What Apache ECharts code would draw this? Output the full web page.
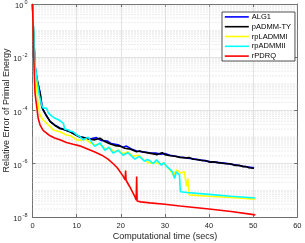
<!DOCTYPE html>
<html><head><meta charset="utf-8">
<script src="https://cdn.jsdelivr.net/npm/echarts@6/dist/echarts.min.js"></script>
<style>html,body{margin:0;padding:0;background:#fff}#c{width:305px;height:243px}</style>
</head><body><div id="c"></div>
<script>
var seriesNames = ['ALG1', 'pADMM-TY', 'rpLADMMI', 'rpADMMII', 'rPDRQ'];
var xTicks = [0, 10, 20, 30, 40, 50, 60];
var yTickExponents = [0, -2, -4, -6, -8];

var alg1 = [[0,1],[0.2,1.2e-1],[0.6,4e-3],[1.0,1.5e-3],[1.4,8e-4],[1.8,4e-4],[2.2,1.3e-4],[2.5,1.0e-4],[3.0,7e-5],[4.0,3.9e-5],[5.0,2.9e-5],[6.2,2.2e-5],[7.3,1.9e-5],[8.5,1.6e-5],[9.6,1.3e-5],[10.7,1.05e-5],[11.9,9.3e-6],[13.0,8.5e-6],[14.5,9.6e-6],[15.5,7.5e-6],[16.9,7.2e-6],[17.8,5.8e-6],[19.6,5.0e-6],[20.5,4.2e-6],[21.3,4.6e-6],[22.4,3.6e-6],[23.6,3.0e-6],[25.0,2.8e-6],[26.5,2.6e-6],[27.9,2.5e-6],[29.0,2.3e-6],[30.0,2.4e-6],[31.2,2.1e-6],[33.4,1.8e-6],[36.4,1.52e-6],[40.2,1.2e-6],[43.9,1.03e-6],[47.7,8.1e-7],[50.2,7.0e-7]];

var padmmTY = [[0,1],[0.2,1e-1],[0.57,4.5e-3],[1.0,1.6e-3],[1.3,9.1e-4],[1.7,4.5e-4],[2.1,1.4e-4],[2.4,1.05e-4],[3.0,7.1e-5],[4.0,3.8e-5],[5.0,2.8e-5],[6.2,2.1e-5],[7.3,1.9e-5],[8.5,1.6e-5],[9.6,1.26e-5],[10.7,1.0e-5],[11.9,9.5e-6],[13.0,8.3e-6],[14.1,7.9e-6],[15.3,9.1e-6],[16.4,6.8e-6],[17.5,5.6e-6],[18.7,4.8e-6],[19.8,4.6e-6],[20.9,3.8e-6],[22.2,3.5e-6],[23.6,2.8e-6],[24.3,3.0e-6],[25.0,2.75e-6],[26.5,2.5e-6],[27.7,2.3e-6],[28.2,2.2e-6],[28.8,2.4e-6],[29.4,2.6e-6],[30.0,2.2e-6],[31.2,2.0e-6],[32.3,1.9e-6],[33.4,1.74e-6],[34.9,1.66e-6],[35.6,1.7e-6],[36.4,1.48e-6],[37.3,1.45e-6],[38.3,1.32e-6],[39.2,1.33e-6],[40.2,1.15e-6],[41.1,1.18e-6],[42.0,1.1e-6],[43.9,1.0e-6],[44.8,1.0e-6],[45.8,8.7e-7],[46.8,8.8e-7],[47.7,7.8e-7],[48.4,7.8e-7],[49.0,7.1e-7],[50.2,6.8e-7]];

var rpladmmi = [[0,1],[0.3,3.2e-2],[0.6,3.2e-3],[1.0,5e-4],[1.3,1.6e-4],[1.7,6.8e-5],[2.4,4.4e-5],[3.6,2.9e-5],[4.7,1.86e-5],[6.2,1.6e-5],[7.7,1.2e-5],[8.7,1.12e-5],[10,7.9e-6],[11,7.6e-6],[12,8.3e-6],[13,6.3e-6],[14.1,5e-6],[15.3,5.6e-6],[16.5,3.5e-6],[17.5,4e-6],[18.5,2.8e-6],[19.5,3.2e-6],[20.6,2.4e-6],[21.6,2.8e-6],[22.8,1.9e-6],[24,2.1e-6],[25.2,1.4e-6],[26.6,1.05e-6],[27.6,1.12e-6],[28.8,1.0e-6],[29.8,1.05e-6],[31.1,5.9e-7],[31.9,3.8e-7],[32.7,5.9e-7],[33.5,4.5e-7],[34.4,5.0e-7],[34.9,1.4e-7],[35.2,2.8e-7],[35.5,6.8e-8],[40,6.0e-8],[45,5.4e-8],[50.5,4.7e-8]];

var rpadmmii = [[0,1],[0.3,6.3e-2],[0.6,5e-3],[1.0,1.6e-3],[1.5,4e-4],[2.0,1.8e-4],[2.3,1.26e-4],[3.2,1.2e-4],[3.6,7.9e-5],[4.3,6.3e-5],[5.1,5.1e-5],[5.9,4.5e-5],[7.0,3.3e-5],[7.3,2.0e-5],[8.0,1.9e-5],[8.6,1.66e-5],[9.2,1.58e-5],[9.9,1.26e-5],[10.7,1.05e-5],[11.5,7.9e-6],[12.6,1.0e-5],[14.1,4.5e-6],[15.3,6.0e-6],[16.4,3.2e-6],[17.3,4.2e-6],[18.3,2.5e-6],[19.4,3.2e-6],[20.5,2.1e-6],[21.6,2.6e-6],[23.2,1.5e-6],[24.2,1.9e-6],[25.4,1.26e-6],[26.0,1.45e-6],[26.6,1.3e-6],[27.3,1.0e-6],[28.1,1.4e-6],[29.2,8.9e-7],[29.8,1.1e-6],[30.4,7.9e-7],[31.1,6.3e-7],[31.7,5e-7],[32.2,2.8e-7],[32.6,5.0e-7],[33.3,3.8e-7],[33.5,8.9e-8],[35,8.3e-8],[40,7.1e-8],[45,6.0e-8],[50.5,5.2e-8]];

var rpdrq = [[0,1],[0.15,1e-1],[0.3,7.9e-3],[0.57,4.5e-4],[0.95,1.4e-4],[1.3,5e-5],[1.7,2.9e-5],[2.4,1.8e-5],[3.2,1.4e-5],[4,1.12e-5],[5,9.3e-6],[6.2,7.9e-6],[7.7,6.3e-6],[9.2,5.4e-6],[10.7,4.7e-6],[12.6,3.5e-6],[14,2.8e-6],[15.7,2.1e-6],[17.1,1.5e-6],[18.3,1.0e-6],[19.2,7.1e-7],[20.5,3.5e-7],[21.0,2.5e-7],[21.1,5.6e-7],[21.2,2.4e-7],[22.0,1.4e-7],[23.2,5.8e-8],[23.5,4.4e-8],[23.6,3.3e-7],[23.7,4.0e-8],[24.5,3.7e-8],[26.6,3.4e-8],[30,3.0e-8],[33.4,2.6e-8],[40,2.0e-8],[45,1.6e-8],[50.5,1.2e-8]];

var colors = ['#0000ff', '#000000', '#ffff00', '#00ffff', '#ff0000'];
var datasets = [alg1, padmmTY, rpladmmi, rpadmmii, rpdrq];

var font = 'Liberation Sans, Arial, sans-serif';
var axisColor = '#6e6e6e';
var labelColor = '#262626';

// minor log grid lines (dotted) drawn through the axes as flat line series
var series = [];
for (var k = -8; k < 0; k++) {
  for (var m = 1; m <= 9; m++) {
    if (m === 1 && k % 2 === 0) continue;
    var v = m * Math.pow(10, k);
    series.push({
      type: 'line', silent: true, z: 1, symbol: 'none', showSymbol: false,
      data: [[0, v], [60, v]],
      lineStyle: { color: '#cfcfcf', type: [1, 2], width: 0.8 },
      tooltip: { show: false }
    });
  }
}
for (var i = 0; i < seriesNames.length; i++) {
  series.push({
    name: seriesNames[i], type: 'line', data: datasets[i],
    showSymbol: false, symbol: 'none', z: 3 + i,
    lineStyle: { color: colors[i], width: 1.6 },
    itemStyle: { color: colors[i] }
  });
}

var chart = echarts.init(document.getElementById('c'), null, { renderer: 'canvas' });
chart.setOption({
  animation: false,
  backgroundColor: '#fff',
  grid: { left: 32.5, right: 7.7, top: 4, bottom: 26, containLabel: false, outerBoundsMode: 'none' },
  legend: {
    data: seriesNames, orient: 'vertical', left: 222, top: 12,
    itemWidth: 24, itemHeight: 6, itemGap: 0,
    padding: [0, 4, 0, 2], backgroundColor: '#fff',
    borderColor: '#262626', borderWidth: 0.8,
    itemStyle: { opacity: 0 },
    lineStyle: { width: 1.6 },
    textStyle: { fontFamily: font, fontSize: 7.5, color: '#000', lineHeight: 9.8, padding: [0, 0, 0, -2] }
  },
  xAxis: [{
    type: 'value', min: 0, max: 60, interval: 10,
    name: 'Computational time (secs)', nameLocation: 'middle', nameGap: 15, nameMoveOverlap: false,
    nameTextStyle: { fontFamily: font, fontSize: 9, color: labelColor },
    axisLine: { show: true, onZero: false, lineStyle: { color: axisColor, width: 1 } },
    axisTick: { show: true, inside: true, length: 3, lineStyle: { color: axisColor } },
    axisLabel: { fontFamily: font, fontSize: 7.5, color: labelColor, margin: 5,
      formatter: function (v) { return xTicks.indexOf(v) >= 0 ? String(v) : ''; } },
    splitLine: { show: true, lineStyle: { color: '#e3e3e3', width: 1 } }
  }, {
    type: 'value', min: 0, max: 60, interval: 10, position: 'top',
    axisLine: { show: true, onZero: false, lineStyle: { color: axisColor, width: 1 } },
    axisTick: { show: true, inside: true, length: 3, lineStyle: { color: axisColor } },
    axisLabel: { show: false }, splitLine: { show: false }
  }],
  yAxis: [{
    type: 'log', logBase: 10, min: 1e-8, max: 1, interval: 2,
    name: 'Relative Error of Primal Energy', nameLocation: 'middle', nameGap: 21, nameMoveOverlap: false,
    nameTextStyle: { fontFamily: font, fontSize: 9, color: labelColor },
    axisLine: { show: true, onZero: false, lineStyle: { color: axisColor, width: 1 } },
    axisTick: { show: true, inside: true, length: 3, lineStyle: { color: axisColor } },
    axisLabel: {
      fontFamily: font, fontSize: 7.5, color: labelColor, margin: 5,
      formatter: function (v) {
        var e = Math.round(Math.log10(v));
        return '{b|10}{s|' + e + '}';
      },
      rich: {
        b: { fontFamily: font, fontSize: 7.5, color: labelColor, padding: [4, 0, 0, 0] },
        s: { fontFamily: font, fontSize: 5.5, color: labelColor, padding: [0, 0, 4, 1] }
      }
    },
    splitLine: { show: true, lineStyle: { color: '#e3e3e3', width: 1 } }
  }, {
    type: 'log', logBase: 10, min: 1e-8, max: 1, interval: 2, position: 'right',
    axisLine: { show: true, onZero: false, lineStyle: { color: axisColor, width: 1 } },
    axisTick: { show: true, inside: true, length: 3, lineStyle: { color: axisColor } },
    axisLabel: { show: false }, splitLine: { show: false }
  }],
  series: series
});
</script></body></html>
